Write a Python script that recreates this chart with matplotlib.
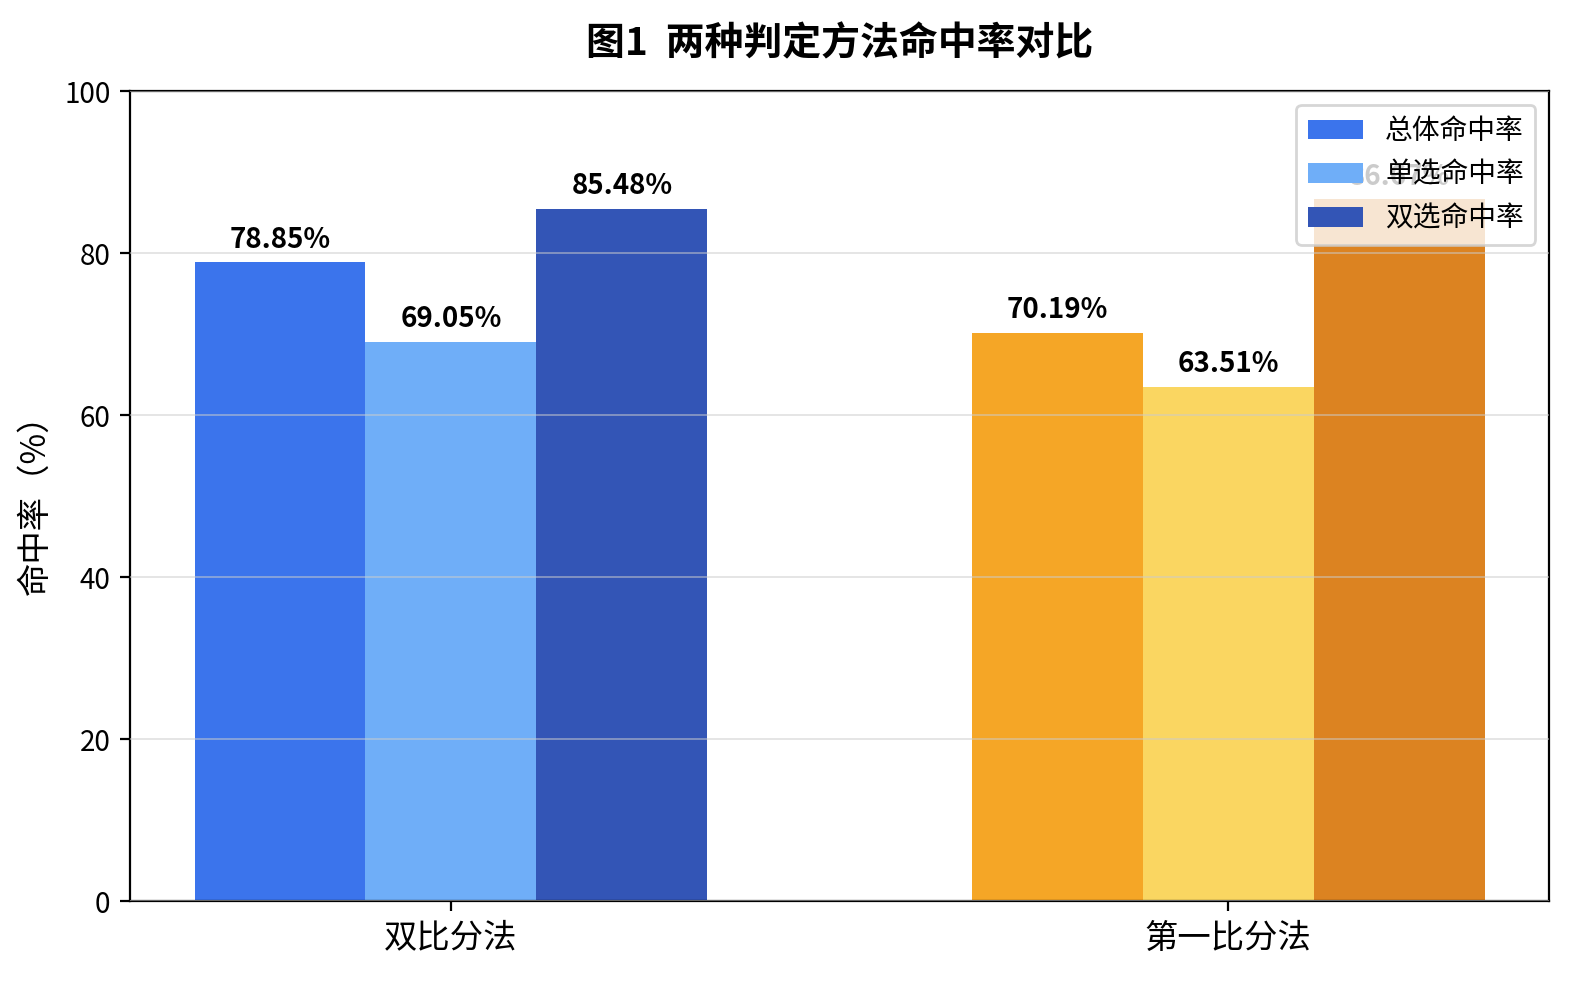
import matplotlib
matplotlib.use("Agg")
import matplotlib.pyplot as plt
import numpy as np

plt.rcParams['font.family'] = ['Noto Sans CJK SC', 'DejaVu Sans']

methods = ['双比分法', '第一比分法']
series = ['总体命中率', '单选命中率', '双选命中率']
values = {
    '总体命中率': [78.85, 70.19],
    '单选命中率': [69.05, 63.51],
    '双选命中率': [85.48, 86.67],
}
colors_group1 = ['#3B74EC', '#6FAEF8', '#3355B6']
colors_group2 = ['#F5A626', '#FAD661', '#DC8321']
title = '图1  两种判定方法命中率对比'
ylabel = '命中率（%）'

fig = plt.figure(figsize=(7.9, 4.905), dpi=200)
ax = fig.add_axes([0.0823, 0.0815, 0.8981, 0.8257])

x = np.arange(len(methods))
width = 0.22
for i, s in enumerate(series):
    cols = [colors_group1[i], colors_group2[i]]
    bars = ax.bar(x + (i - 1) * width, values[s], width, color=cols, label=s, zorder=2)
    ax.bar_label(bars, labels=[f'{v:.2f}%' for v in values[s]], padding=3,
                 fontsize=10, fontweight='bold', zorder=3)

ax.set_ylim(0, 100)
ax.set_xticks(x)
ax.set_xticklabels(methods, fontsize=12)
ax.tick_params(axis='y', labelsize=10)
ax.set_ylabel(ylabel, fontsize=12)
ax.set_title(title, fontsize=14, fontweight='bold', pad=13)
ax.yaxis.grid(True, color='#cccccc', alpha=0.6, linewidth=0.6, zorder=4)
ax.set_axisbelow(False)
for sp in ax.spines.values():
    sp.set_linewidth(0.8)

leg = ax.legend(loc='upper right', fontsize=10)
leg.set_zorder(10)

fig.savefig('out.png', dpi=200)
